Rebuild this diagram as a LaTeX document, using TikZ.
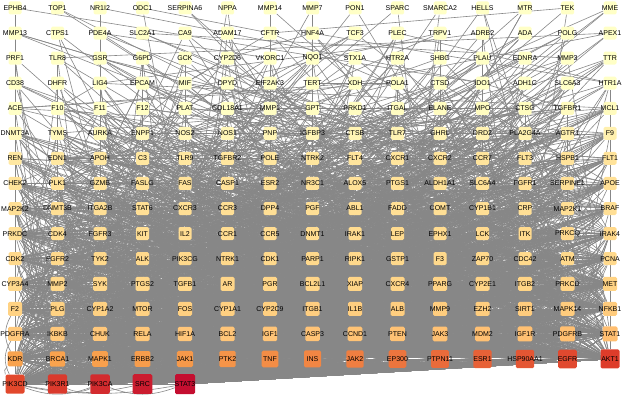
\documentclass[tikz,border=0pt]{standalone}
\usepackage{fontspec}
\setmainfont{Liberation Sans}
\usetikzlibrary{backgrounds}

\definecolor{linkgray}{HTML}{878787}
\definecolor{r0}{HTML}{FFFFC6}
\definecolor{r4}{HTML}{FFFBBE}
\definecolor{r5a}{HTML}{FFF9BC}
\definecolor{r5b}{HTML}{FFF0AE}
\definecolor{r6a}{HTML}{FFE8A2}
\definecolor{r6b}{HTML}{FFE39A}
\definecolor{r7b}{HTML}{FFE096}
\definecolor{r8a}{HTML}{FFDF95}
\definecolor{r10b}{HTML}{FFD98C}
\definecolor{r11a}{HTML}{FFD88C}
\definecolor{r11b}{HTML}{FFD384}
\definecolor{r12a}{HTML}{FFD283}
\definecolor{r12b}{HTML}{FFCB7C}
\definecolor{r13a}{HTML}{FFC97C}
\definecolor{r13b}{HTML}{FFBE70}
\definecolor{r14a}{HTML}{F9A34E}
\definecolor{r14b}{HTML}{DD3C2A}
\definecolor{r15a}{HTML}{E2482C}
\definecolor{r15b}{HTML}{C40E30}

\begin{document}
\begin{tikzpicture}[x=1pt,y=-1pt]
  \tikzstyle{gene}=[rectangle,rounded corners=1.5pt,inner sep=0pt,draw=none]
  \tikzstyle{genelabel}=[font=\fontsize{7}{8}\selectfont,inner sep=0pt,text=black]
  \tikzstyle{link}=[draw=linkgray,line width=0.6pt]
  \useasboundingbox (0,0) rectangle (623,406);

  % genes, sorted by degree
  \foreach \r/\ca/\cb/\sa/\sb/\names in {
    0/r0/r0/13/13/{EPHB4,TOP1,NR1I2,ODC1,SERPINA6,NPPA,MMP14,MMP7,PON1,SPARC,SMARCA2,HELLS,MTR,TEK,MME},
    1/r0/r0/13/13/{MMP13,CTPS1,PDE4A,SLC2A1,CA9,ADAM17,CFTR,HNF4A,TCF3,PLEC,TRPV1,ADRB2,ADA,POLG,APEX1},
    2/r0/r0/13/13/{PRF1,TLR8,GSR,G6PD,GCK,CYP2D6,VKORC1,NQO1,STX1A,HTR2A,SHBG,PLAU,EDNRA,MMP3,TTR},
    3/r0/r0/13/13/{CD38,DHFR,LIG4,EPCAM,MIF,DPYD,EIF2AK3,TERT,XDH,POLA1,CTSD,IDO1,ADH1C,SLC6A3,HTR1A},
    4/r0/r4/13/13/{ACE,F10,F11,F12,PLAT,COL18A1,MMP1,GPT,PRKD1,ITGAL,ELANE,MPO,CTSG,TGFBR1,MCL1},
    5/r5a/r5b/13/13/{DNMT3A,TYMS,AURKA,ENPP1,NOS2,NOS1,PNP,IGFBP3,CTSB,TLR7,GHRL,DRD2,PLA2G4A,AGTR1,F9},
    6/r6a/r6b/13/13/{REN,EDN1,APOH,C3,TLR9,TGFBR2,POLE,NTRK2,FLT4,CXCR1,CXCR2,CCR7,FLT3,HSPB1,FLT1},
    7/r6b/r7b/13/13/{CHEK2,PLK1,GZMB,FASLG,FAS,CASP1,ESR2,NR3C1,ALOX5,PTGS1,ALDH1A1,SLC6A4,FGFR1,SERPINE1,APOE},
    8/r8a/r8a/13/13/{MAP2K2,DNMT3B,ITGA2B,STAT6,CXCR3,CCR3,DPP4,PGF,ABL1,FADD,COMT,CYP1B1,CRP,MAP2K1,BRAF},
    9/r8a/r10b/13/13/{PRKDC,CDK4,FGFR3,KIT,IL2,CCR1,CCR5,DNMT1,IRAK1,LEP,EPHX1,LCK,ITK,PRKCQ,IRAK4},
    10/r10b/r10b/13/13/{CDK2,FGFR2,TYK2,ALK,PIK3CG,NTRK1,CDK1,PARP1,RIPK1,GSTP1,F3,ZAP70,CDC42,ATM,PCNA},
    11/r11a/r11b/14/14/{CYP3A4,MMP2,SYK,PTGS2,TGFB1,AR,PGR,BCL2L1,XIAP,CXCR4,PPARG,CYP2E1,ITGB2,PRKCD,MET},
    12/r12a/r12b/14/14/{F2,PLG,CYP1A2,MTOR,FOS,CYP1A1,CYP2C9,ITGB1,IL1B,ALB,MMP9,EZH2,SIRT1,MAPK14,NFKB1},
    13/r13a/r13b/14/15/{PDGFRA,IKBKB,CHUK,RELA,HIF1A,BCL2,IGF1,CASP3,CCND1,PTEN,JAK3,MDM2,IGF1R,PDGFRB,STAT1},
    14/r14a/r14b/15/19/{KDR,BRCA1,MAPK1,ERBB2,JAK1,PTK2,TNF,INS,JAK2,EP300,PTPN11,ESR1,HSP90AA1,EGFR,AKT1},
    15/r15a/r15b/19/20/{PIK3CD,PIK3R1,PIK3CA,SRC,STAT3}}{
    \foreach \n [count=\c from 0] in \names {
      \pgfmathtruncatemacro\idx{\r*15+\c}
      \pgfmathsetmacro\t{\c/(\r==15?4:14)}
      \pgfmathtruncatemacro\pct{100*\t^(\r==14?1.8:1)}
      \pgfmathsetmacro\sz{\sa+(\sb-\sa)*\t}
      \node[gene,fill=\cb!\pct!\ca,minimum size=\sz pt,alias=n\idx,
            label={[genelabel]center:\n}] (\n) at (15+42.5*\c,8+25.07*\r) {};
    }
  }

  % interactions (n0 ... n229, low to high degree)
  \begin{pgfonlayer}{background}
    \pgfmathsetseed{7}
    \foreach \i in {0,...,228}{
      \pgfmathtruncatemacro\m{2+\i/11+max(0,\i-60)/4}
      \foreach \k in {1,...,\m}{
        \pgfmathsetmacro\u{rnd}
        \pgfmathtruncatemacro\j{229-floor((228-\i)*\u^(\i<60?2:1.4))}
        \draw[link] (n\i) -- (n\j);
      }
    }
    \draw[link] (PDGFRA) to[bend right=30] (PIK3CD);
    \draw[link] (KDR) to[bend right=45] (PIK3CD);
    \draw[link] (F2) to[bend right=30] (KDR);
    \draw[link] (PIK3CD) to[bend right=20] (PIK3CA);
    \draw[link] (PIK3CD) to[bend right=12] (SRC);
    \draw[link] (PIK3R1) to[bend right=25] (PIK3CA);
    \draw[link] (PIK3CA) to[bend right=20] (STAT3);
    \draw[link] (PIK3CD) to[bend right=10] (STAT3);
  \end{pgfonlayer}
\end{tikzpicture}
\end{document}
